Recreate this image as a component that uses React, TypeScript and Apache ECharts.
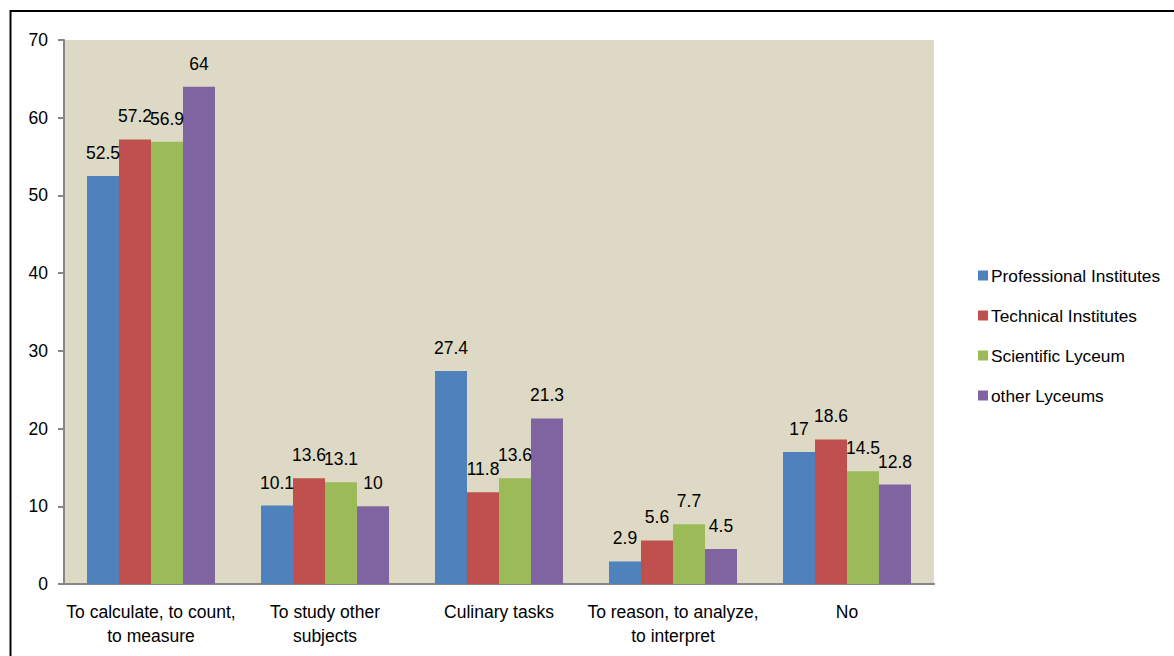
import React, { useEffect, useRef } from "react";
import * as echarts from "echarts";

const categories = [
  "To calculate, to count,\nto measure",
  "To study other\nsubjects",
  "Culinary tasks",
  "To reason, to analyze,\nto interpret",
  "No",
];
const seriesNames = [
  "Professional Institutes",
  "Technical Institutes",
  "Scientific Lyceum",
  "other Lyceums",
];
const professional = [52.5, 10.1, 27.4, 2.9, 17];
const technical = [57.2, 13.6, 11.8, 5.6, 18.6];
const scientific = [56.9, 13.1, 13.6, 7.7, 14.5];
const otherLyceums = [64, 10, 21.3, 4.5, 12.8];
const colors = ["#4F81BD", "#C0504D", "#9BBB59", "#8064A2"];
const yTicks = { min: 0, max: 70, interval: 10 };

const FONT = "'Liberation Sans', Arial, sans-serif";

export default function App() {
  const ref = useRef<HTMLDivElement>(null);
  useEffect(() => {
    if (!ref.current) return;
    const chart = echarts.init(ref.current, null, { renderer: "svg" });
    const data = [professional, technical, scientific, otherLyceums];
    chart.setOption({
      animation: false,
      textStyle: { fontFamily: FONT },
      graphic: [
        {
          type: "rect",
          shape: { x: 10.5, y: 11, width: 1300, height: 800 },
          style: { fill: "none", stroke: "#000", lineWidth: 2 },
          z: 100,
        },
      ],
      grid: {
        left: 64,
        right: 240,
        top: 40,
        bottom: 72,
        show: true,
        backgroundColor: "#DDD9C4",
        borderWidth: 0,
      },
      legend: {
        orient: "vertical",
        left: 973,
        top: 262,
        icon: "rect",
        itemWidth: 10,
        itemHeight: 10,
        itemGap: 23,
        textStyle: { fontSize: 17.3, color: "#000", fontFamily: FONT, padding: [0, 0, 0, -2] },
        data: seriesNames,
      },
      xAxis: {
        type: "category",
        data: categories,
        axisLine: { lineStyle: { color: "#868686", width: 2 } },
        axisTick: { show: false },
        axisLabel: {
          fontSize: 17.5,
          color: "#000",
          margin: 16,
          lineHeight: 24,
          fontFamily: FONT,
          interval: 0,
        },
      },
      yAxis: {
        type: "value",
        min: yTicks.min,
        max: yTicks.max,
        interval: yTicks.interval,
        splitLine: { show: false },
        axisLine: { show: true, lineStyle: { color: "#868686", width: 2 } },
        axisTick: { show: true, length: 6, lineStyle: { color: "#868686", width: 2 } },
        axisLabel: { fontSize: 17.5, color: "#000", margin: 16, fontFamily: FONT },
      },
      series: seriesNames.map((name, i) => ({
        name,
        type: "bar",
        data: data[i],
        barWidth: 32,
        barGap: "0%",
        itemStyle: { color: colors[i] },
        label: {
          show: true,
          position: "top",
          distance: 14,
          fontSize: 17.5,
          color: "#000",
          fontFamily: FONT,
        },
      })),
    });
    return () => chart.dispose();
  }, []);
  return (
    <div
      ref={ref}
      style={{ position: "fixed", left: 0, top: 0, width: 1174, height: 656, background: "#fff" }}
    />
  );
}
